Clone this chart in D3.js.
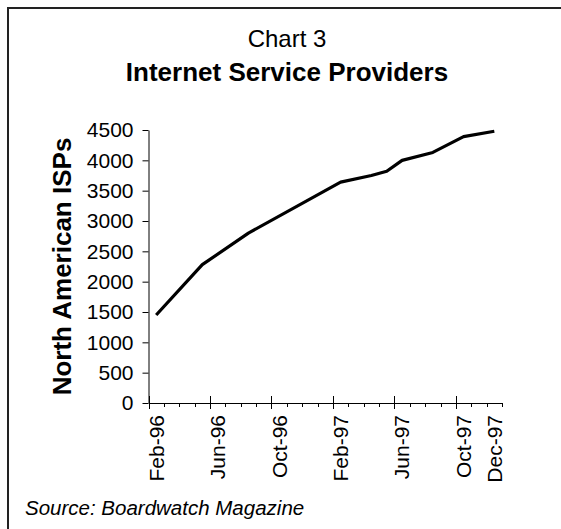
<!DOCTYPE html>
<html>
<head>
<meta charset="utf-8">
<script src="https://cdn.jsdelivr.net/npm/d3@7"></script>
<style>
  body { margin: 0; background: #fff; }
  svg { display: block; }
  text { font-family: "Liberation Sans", Arial, sans-serif; fill: #000; }
</style>
</head>
<body>
<div id="container"></div>
<script>
// categories on the x axis (one per month)
let months = ["Feb-96","Mar-96","Apr-96","May-96","Jun-96","Jul-96","Aug-96","Sep-96","Oct-96","Nov-96","Dec-96","Jan-97",
              "Feb-97","Mar-97","Apr-97","May-97","Jun-97","Jul-97","Aug-97","Sep-97","Oct-97","Nov-97","Dec-97"];
let monthLabels = ["Feb-96","Jun-96","Oct-96","Feb-97","Jun-97","Oct-97","Dec-97"];
// survey dates and counts of North American ISPs
let surveyMonths = ["Feb-96","May-96","Aug-96","Feb-97","Apr-97","May-97","Jun-97","Aug-97","Oct-97","Dec-97"];
let ispCounts = [1450, 2280, 2800, 3640, 3750, 3820, 4000, 4130, 4390, 4480];
let yTicks = [0, 500, 1000, 1500, 2000, 2500, 3000, 3500, 4000, 4500];

let w = 561;
let h = 529;

let viz = d3.select("#container")
  .append("svg")
    .attr("width", w)
    .attr("height", h)
    .style("background-color", "#fff");

// chart area frame
viz.append("rect")
  .attr("x", 8).attr("y", 8)
  .attr("width", 570).attr("height", 540)
  .attr("fill", "none")
  .attr("stroke", "#222")
  .attr("stroke-width", 2);

// titles
viz.append("text")
  .attr("x", 287).attr("y", 47)
  .attr("text-anchor", "middle")
  .style("font-size", "24px")
  .text("Chart 3");

viz.append("text")
  .attr("x", 287).attr("y", 81)
  .attr("text-anchor", "middle")
  .style("font-size", "26px")
  .style("font-weight", "bold")
  .text("Internet Service Providers");

// scales
let xScale = d3.scaleBand().domain(months).range([148.5, 502]).padding(0);
let yScale = d3.scaleLinear().domain([0, 4500]).range([403, 130]);

// y axis
let yAxisGroup = viz.append("g").attr("class", "yAxisGroup")
  .attr("transform", "translate(148.5,0)");
yAxisGroup.call(d3.axisLeft(yScale).tickValues(yTicks).tickFormat(d3.format("d"))
  .tickSize(6).tickPadding(9).tickSizeOuter(0));
yAxisGroup.select(".domain").attr("stroke", "#000");
yAxisGroup.selectAll("text").style("font-size", "21px").attr("font-family", null);

// x axis (labels only; ticks drawn between categories below)
let xAxisGroup = viz.append("g").attr("class", "xAxisGroup")
  .attr("transform", "translate(0,403)");
xAxisGroup.call(d3.axisBottom(xScale).tickValues(monthLabels).tickSize(0).tickSizeOuter(0));
xAxisGroup.select(".domain").attr("stroke", "#000");
xAxisGroup.selectAll(".tick text")
  .attr("transform", "rotate(-90)")
  .attr("text-anchor", "end")
  .attr("x", -12)
  .attr("y", 0)
  .attr("dy", "0.35em")
  .attr("font-family", null)
  .style("font-size", "21px");

// tick marks at category boundaries, longer every 4 months
let boundaries = months.map(function(m){ return xScale(m); }).concat([xScale.range()[1]]);
xAxisGroup.selectAll(".boundTick")
  .data(boundaries)
  .enter()
  .append("line")
    .attr("class", "boundTick")
    .attr("x1", function(d){ return Math.round(d) + 0.5; })
    .attr("x2", function(d){ return Math.round(d) + 0.5; })
    .attr("y1", function(d, i){ return (i % 4 == 0 && i < months.length) ? -7 : 0; })
    .attr("y2", function(d, i){ return (i % 4 == 0 && i < months.length) ? 6 : 4; })
    .attr("stroke", "#000");

// y axis title
viz.append("text")
  .attr("transform", "translate(71," + ((yScale(0) + yScale(4500)) / 2) + ") rotate(-90)")
  .attr("text-anchor", "middle")
  .style("font-size", "26px")
  .style("font-weight", "bold")
  .text("North American ISPs");

// the line
let line = d3.line()
  .x(function(d){ return xScale(d.month) + xScale.bandwidth() / 2; })
  .y(function(d){ return yScale(d.count); });

let points = surveyMonths.map(function(m, i){ return {month: m, count: ispCounts[i]}; });

viz.append("path")
  .datum(points)
  .attr("d", line)
  .attr("fill", "none")
  .attr("stroke", "#000")
  .attr("stroke-width", 3.2)
  .attr("stroke-linejoin", "round");

// source note
viz.append("text")
  .attr("x", 25).attr("y", 515)
  .style("font-size", "20.5px")
  .style("font-style", "italic")
  .text("Source: Boardwatch Magazine");
</script>
</body>
</html>
